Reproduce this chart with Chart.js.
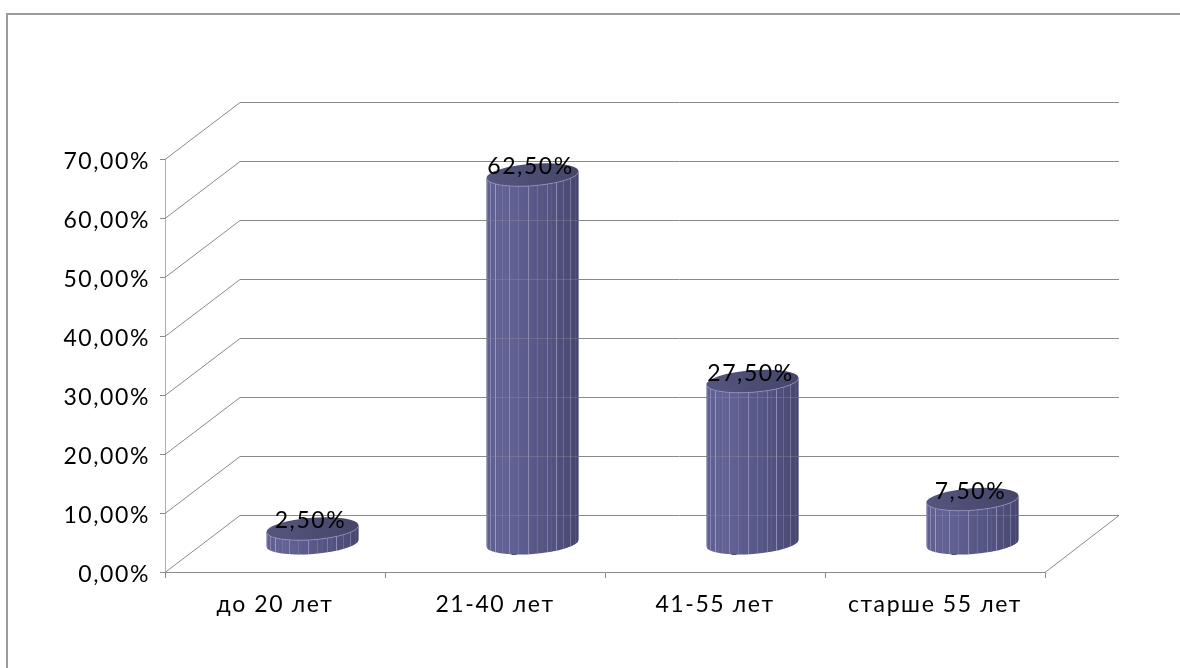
<!DOCTYPE html>
<html>
<head>
<meta charset="utf-8">
<script src="https://cdn.jsdelivr.net/npm/chart.js@4"></script>
<style>
  html, body { margin: 0; padding: 0; background: #fff; overflow: hidden; }
  #frame { position: absolute; left: 6px; top: 13px; width: 1174px; height: 655px;
           border-top: 2px solid #9c9c9c; border-left: 2px solid #9c9c9c; }
  #wrap { position: absolute; left: 0; top: 0; width: 1180px; height: 668px; }
</style>
</head>
<body>
<div id="frame"></div>
<div id="wrap"><canvas id="age-chart" width="1180" height="668"></canvas></div>
<script>
const categories = ['до 20 лет', '21-40 лет', '41-55 лет', 'старше 55 лет'];
const shares = [2.5, 62.5, 27.5, 7.5];

// depth of the fake 3D floor, in px
const DEPTH_X = 75;
const DEPTH_Y = 57;
const FACETS = 30;
const LABEL_FONT = '23px Lato';
const LABEL_SPACING = '1.6px';
// uneven brightness of the seams between facets
const SEAM_ALPHA = [0.42, 0.14, 0.3, 0.48, 0.18, 0.34, 0.1];

function percent(v) {
    return v.toFixed(2).replace('.', ',') + '%';
}

// back wall lines, also used faintly on top of the cylinders
function backLines(chart) {
    const { ctx, scales, chartArea } = chart;
    scales.y.ticks.forEach(t => {
        const y = Math.round(scales.y.getPixelForValue(t.value)) + 0.5 - DEPTH_Y;
        ctx.beginPath();
        ctx.moveTo(chartArea.left + DEPTH_X, y);
        ctx.lineTo(chartArea.right + DEPTH_X - 1, y);
        ctx.stroke();
    });
}

const wallPlugin = {
    id: 'wall',
    beforeDraw(chart) {
        chart.ctx.letterSpacing = LABEL_SPACING;
    },
    beforeDatasetsDraw(chart) {
        const { ctx, scales, chartArea } = chart;
        ctx.save();
        ctx.strokeStyle = '#8a8a8a';
        ctx.lineWidth = 1;
        backLines(chart);
        scales.y.ticks.forEach(t => {
            const y = Math.round(scales.y.getPixelForValue(t.value)) + 0.5;
            ctx.beginPath();
            ctx.moveTo(chartArea.left, y);
            ctx.lineTo(chartArea.left + DEPTH_X, y - DEPTH_Y);
            ctx.stroke();
        });
        // right edge of the floor
        const y0 = Math.round(scales.y.getPixelForValue(0)) + 0.5;
        ctx.beginPath();
        ctx.moveTo(chartArea.right, y0);
        ctx.lineTo(chartArea.right + DEPTH_X - 1, y0 - DEPTH_Y);
        ctx.stroke();
        ctx.restore();
    },
};

function drawCylinder(chart, cx, top, bottom, w) {
    const { ctx } = chart;
    const rx = w / 2;
    const ry = 11;
    const tilt = -0.075;

    // small stub under the tall columns
    if (bottom - top > 30) {
        ctx.fillStyle = '#40406a';
        ctx.fillRect(cx - 21, bottom + 9, 5, 3);
    }

    ctx.save();
    ctx.beginPath();
    ctx.ellipse(cx, top, rx, ry, tilt, Math.PI, 0, true);
    ctx.ellipse(cx, bottom, rx, ry, tilt, 0, Math.PI, false);
    ctx.closePath();
    ctx.clip();
    // facets, narrowing towards both edges
    for (let i = 0; i < FACETS; i++) {
        const x0 = cx - rx * Math.cos(Math.PI * i / FACETS);
        const x1 = cx - rx * Math.cos(Math.PI * (i + 1) / FACETS);
        const t = i / (FACETS - 1);
        const shade = t < 0.35 ? 0 : (t - 0.35) / 0.65;
        const r = Math.round(96 - 30 * shade);
        const b = Math.round(147 - 41 * shade);
        ctx.fillStyle = `rgb(${r},${r},${b})`;
        ctx.fillRect(x0, top - ry * 2, x1 - x0 + 0.5, bottom - top + ry * 4);
    }
    ctx.lineWidth = 1;
    for (let i = 2; i < FACETS; i += 2) {
        const x = Math.round(cx - rx * Math.cos(Math.PI * i / FACETS)) + 0.5;
        const alpha = SEAM_ALPHA[(i / 2) % SEAM_ALPHA.length];
        ctx.strokeStyle = `rgba(205,205,235,${alpha})`;
        ctx.beginPath();
        ctx.moveTo(x, top - ry * 2);
        ctx.lineTo(x, bottom + ry * 2);
        ctx.stroke();
    }
    // wall lines show faintly through the body
    ctx.strokeStyle = 'rgba(150,150,150,0.35)';
    backLines(chart);
    ctx.restore();

    // top cap
    const cap = ctx.createLinearGradient(cx - rx, top + ry, cx + rx, top - ry);
    cap.addColorStop(0, '#55557f');
    cap.addColorStop(1, '#454568');
    ctx.fillStyle = cap;
    ctx.beginPath();
    ctx.ellipse(cx, top, rx, ry, tilt, 0, Math.PI * 2);
    ctx.fill();
    ctx.strokeStyle = 'rgba(150,150,195,0.7)';
    ctx.lineWidth = 1;
    ctx.beginPath();
    ctx.ellipse(cx, top, rx, ry, tilt, 0, Math.PI, false);
    ctx.stroke();
}

const cylinderPlugin = {
    id: 'cylinders',
    afterDatasetsDraw(chart) {
        const { ctx } = chart;
        const meta = chart.getDatasetMeta(0);
        meta.data.forEach(bar => {
            const cx = bar.x + DEPTH_X / 2;
            drawCylinder(chart, cx, bar.y - DEPTH_Y / 2, bar.base - DEPTH_Y / 2, bar.width);
        });
        // value labels sit over the caps
        ctx.save();
        ctx.font = LABEL_FONT;
        ctx.letterSpacing = LABEL_SPACING;
        ctx.fillStyle = '#000';
        ctx.textAlign = 'center';
        ctx.textBaseline = 'middle';
        meta.data.forEach((bar, i) => {
            ctx.fillText(percent(shares[i]), bar.x + DEPTH_X / 2 - 2, bar.y - DEPTH_Y / 2 - 8);
        });
        ctx.restore();
    },
};

new Chart(document.getElementById('age-chart'), {
    type: 'bar',
    data: {
        labels: categories,
        datasets: [{
            data: shares,
            backgroundColor: 'rgba(0,0,0,0)',
            barPercentage: 0.42,
            categoryPercentage: 1,
        }],
    },
    options: {
        responsive: false,
        animation: false,
        layout: { padding: { top: 159, right: 135, left: 0, bottom: 0 } },
        plugins: { legend: { display: false }, tooltip: { enabled: false } },
        scales: {
            x: {
                afterFit(scale) { scale.height = 96; },
                grid: { drawOnChartArea: false, color: '#8a8a8a', tickLength: 6, offset: true },
                border: { color: '#8a8a8a' },
                ticks: { color: '#000', font: { family: 'Lato', size: 23 }, padding: 13, maxRotation: 0 },
            },
            y: {
                min: 0,
                max: 70,
                afterFit(scale) { scale.width = 165; },
                grid: { drawOnChartArea: false, color: '#8a8a8a', tickLength: 5 },
                border: { color: '#b0b0b0' },
                ticks: {
                    stepSize: 10,
                    color: '#000',
                    font: { family: 'Lato', size: 23 },
                    padding: 10,
                    labelOffset: 3,
                    callback: v => percent(v),
                },
            },
        },
    },
    plugins: [wallPlugin, cylinderPlugin],
});
</script>
</body>
</html>
